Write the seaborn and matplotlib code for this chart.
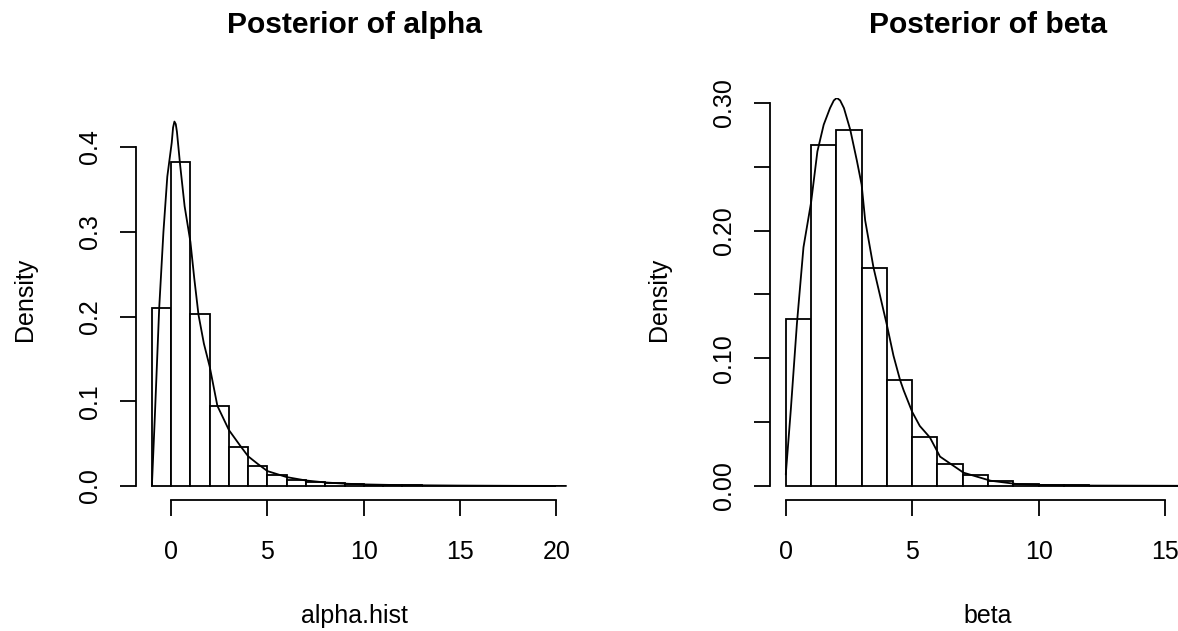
import numpy as np
import pandas as pd
import seaborn as sns
import matplotlib.pyplot as plt

# histogram bins (left edges) and densities
alpha_edges = list(range(-1, 21))
alpha_density = [0.210, 0.382, 0.203, 0.094, 0.046, 0.024, 0.013, 0.0075,
                 0.0045, 0.003, 0.002, 0.0015, 0.001, 0.0008, 0.0006, 0.0005,
                 0.0004, 0.0003, 0.0002, 0.0001, 0.0001]

beta_edges = list(range(0, 17))
beta_density = [0.131, 0.267, 0.279, 0.171, 0.083, 0.038, 0.017, 0.0082,
                0.0036, 0.0016, 0.0008, 0.0004, 0.0002, 0.0001, 0.0001, 0.00005]

# smoothed density curves
alpha_kde_x = [-1.0, -0.85, -0.62, -0.4, -0.2, 0.03, 0.1, 0.17, 0.24, 0.3, 0.47,
               0.7, 1.0, 1.2, 1.42, 1.7, 2.0, 2.4, 3.0, 3.58, 4.0, 4.5, 5.0, 6.0,
               7.0, 8.0, 9.0, 10.0, 12.0, 15.0, 18.0, 20.5]
alpha_kde_y = [0.0, 0.08, 0.21, 0.30, 0.365, 0.405, 0.423, 0.43, 0.427, 0.418,
               0.378, 0.33, 0.288, 0.245, 0.202, 0.168, 0.141, 0.0946, 0.066,
               0.0477, 0.035, 0.026, 0.0176, 0.0105, 0.0065, 0.0042, 0.0028,
               0.0019, 0.001, 0.0005, 0.0002, 0.0001]

beta_kde_x = [0.0, 0.2, 0.44, 0.7, 1.0, 1.25, 1.5, 1.75, 1.9, 2.02, 2.15, 2.3,
              2.55, 2.81, 3.0, 3.14, 3.47, 4.0, 4.26, 4.52, 4.66, 5.0, 5.3, 5.7,
              6.1, 7.03, 8.1, 9.1, 10.0, 12.0, 16.0]
beta_kde_y = [0.009, 0.06, 0.127, 0.187, 0.222, 0.262, 0.283, 0.296, 0.302, 0.304,
              0.302, 0.296, 0.279, 0.255, 0.236, 0.208, 0.171, 0.126, 0.102,
              0.083, 0.075, 0.058, 0.047, 0.038, 0.023, 0.0104, 0.0041, 0.0016,
              0.0008, 0.0003, 0.0001]

alpha_yticks = [0.0, 0.1, 0.2, 0.3, 0.4]
alpha_ylabels = ["0.0", "0.1", "0.2", "0.3", "0.4"]
beta_yticks = [0.0, 0.05, 0.10, 0.15, 0.20, 0.25, 0.30]
beta_ylabels = ["0.00", "", "0.10", "", "0.20", "", "0.30"]

sns.set_style("white")
plt.rcParams["font.family"] = ["Liberation Sans", "DejaVu Sans"]
plt.rcParams["text.color"] = "black"
plt.rcParams["axes.labelcolor"] = "black"

W, H = 1178, 631
fig = plt.figure(figsize=(W / 100, H / 100), dpi=100)


def px_axes(left, right, top, bottom):
    return fig.add_axes([left / W, 1 - bottom / H, (right - left) / W, (bottom - top) / H])


def r_hist(ax, edges, dens, kx, ky, xlim, ylim, xticks, yticks, ylabels, title, xlabel):
    centers = [e + 0.5 for e in edges[:-1]]
    df = pd.DataFrame({"x": centers, "d": dens})
    sns.histplot(data=df, x="x", weights="d", bins=edges, stat="count",
                 color="white", edgecolor="black", linewidth=1.3, alpha=1, ax=ax)
    sns.lineplot(x=kx, y=ky, color="black", linewidth=1.3, ax=ax, sort=False)
    ax.set_xlim(*xlim)
    ax.set_ylim(*ylim)
    for s in ["top", "right"]:
        ax.spines[s].set_visible(False)
    ax.spines["left"].set_bounds(yticks[0], yticks[-1])
    ax.spines["bottom"].set_bounds(xticks[0], xticks[-1])
    for s in ["left", "bottom"]:
        ax.spines[s].set_linewidth(1.3)
        ax.spines[s].set_color("black")
    ax.set_xticks(xticks)
    ax.set_xticklabels([str(t) for t in xticks])
    ax.set_yticks(yticks)
    ax.set_yticklabels(ylabels)
    ax.tick_params(axis="both", direction="out", length=11.5, width=1.3,
                   color="black", labelsize=18, labelcolor="black", left=True, bottom=True)
    ax.tick_params(axis="x", pad=17)
    ax.tick_params(axis="y", pad=13, labelrotation=90)
    for lbl in ax.get_yticklabels():
        lbl.set_va("center")
    ax.set_title(title, fontsize=21.6, fontweight="bold", pad=47, color="black")
    ax.set_xlabel(xlabel, fontsize=18, color="black")
    ax.set_ylabel("Density", fontsize=18, color="black")
    ax.xaxis.label.set_va("baseline")
    ax.xaxis.set_label_coords(0.5, -0.305)
    ax.yaxis.set_label_coords(-0.226, 0.5)
    ax.grid(False)


ax1 = px_axes(135.7, 572.6, 98, 500)
r_hist(ax1, alpha_edges, alpha_density, alpha_kde_x, alpha_kde_y,
       (-1.84, 20.84), (-0.0165, 0.4578), [0, 5, 10, 15, 20],
       alpha_yticks, alpha_ylabels, "Posterior of alpha", "alpha.hist")

ax2 = px_axes(769.6, 1206.5, 98, 500)
r_hist(ax2, beta_edges, beta_density, beta_kde_x, beta_kde_y,
       (-0.64, 16.64), (-0.011, 0.3039), [0, 5, 10, 15],
       beta_yticks, beta_ylabels, "Posterior of beta", "beta")

fig.savefig("out.png", dpi=100, facecolor="white")
